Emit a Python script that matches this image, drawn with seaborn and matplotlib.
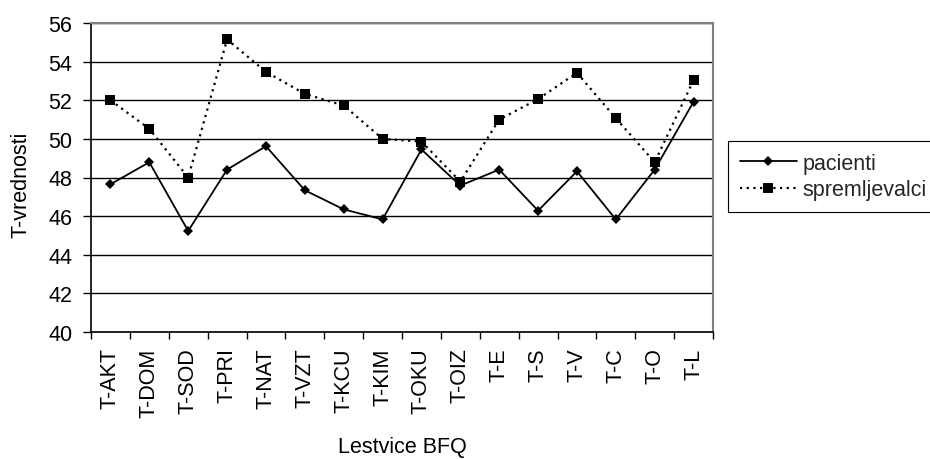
import numpy as np
import pandas as pd
import seaborn as sns
import matplotlib
matplotlib.use("Agg")
import matplotlib.pyplot as plt
from matplotlib.ticker import FixedLocator, NullFormatter
from matplotlib.lines import Line2D

# BFQ scales
scales = ["T-AKT", "T-DOM", "T-SOD", "T-PRI", "T-NAT", "T-VZT", "T-KCU", "T-KIM",
          "T-OKU", "T-OIZ", "T-E", "T-S", "T-V", "T-C", "T-O", "T-L"]

# Mean T-scores per group
pacienti = [47.65, 48.79, 45.23, 48.41, 49.62, 47.34, 46.35, 45.83,
            49.45, 47.58, 48.41, 46.28, 48.32, 45.83, 48.41, 51.92]
spremljevalci = [52.0, 50.52, 48.0, 55.15, 53.47, 52.33, 51.73, 50.0,
                 49.86, 47.79, 51.0, 52.06, 53.42, 51.07, 48.79, 53.04]

groups = ["pacienti", "spremljevalci"]
y_ticks = [40, 42, 44, 46, 48, 50, 52, 54, 56]

df = pd.DataFrame({
    "lestvica": scales * 2,
    "T": pacienti + spremljevalci,
    "skupina": [groups[0]] * len(scales) + [groups[1]] * len(scales),
})

sns.set_theme(style="white")
plt.rcParams["font.family"] = ["Liberation Sans", "DejaVu Sans"]
FS = 15.5

fig = plt.figure(figsize=(9.3, 4.6), dpi=100)
ax = fig.add_axes([91 / 930, 1 - 333 / 460, (713 - 91) / 930, (333 - 24) / 460])

DOT = (1.0, 2.0)
sns.lineplot(
    data=df, x="lestvica", y="T", hue="skupina", style="skupina",
    hue_order=groups, style_order=groups,
    palette={"pacienti": "black", "spremljevalci": "black"},
    markers={"pacienti": "D", "spremljevalci": "s"},
    dashes={"pacienti": "", "spremljevalci": DOT},
    linewidth=1.3, ax=ax, sort=False, legend=False,
)
for line, ms, lw in zip(ax.lines, [5.4, 7.2], [1.3, 1.6]):
    line.set_markersize(ms)
    line.set_markeredgewidth(0)
    line.set_linewidth(lw)

ax.set_xlim(-0.5, len(scales) - 0.5)
ax.set_ylim(40, 56)
ax.set_yticks(y_ticks)
ax.set_yticklabels([str(v) for v in y_ticks])
ax.set_xticks(range(len(scales)))
ax.set_xticklabels(scales, rotation=90)
ax.xaxis.set_minor_locator(FixedLocator(np.arange(-0.5, len(scales), 1.0)))
ax.xaxis.set_minor_formatter(NullFormatter())
ax.tick_params(axis="x", which="major", length=0, pad=11, labelsize=FS, colors="black")
ax.tick_params(axis="x", which="minor", length=5, width=1, color="black", direction="out", bottom=True)
ax.tick_params(axis="y", which="major", length=5.5, width=1, color="black", direction="out",
               left=True, pad=8, labelsize=FS, labelcolor="black")

ax.yaxis.grid(True, color="black", linewidth=1)
ax.xaxis.grid(False)
ax.set_axisbelow(True)

for side in ["left", "bottom"]:
    ax.spines[side].set_color("black")
    ax.spines[side].set_linewidth(1.2)
for side in ["top", "right"]:
    ax.spines[side].set_color("#808080")
    ax.spines[side].set_linewidth(1.5)

ax.set_xlabel("Lestvice BFQ", fontsize=FS, color="black")
ax.set_ylabel("T-vrednosti", fontsize=FS, color="black")
ax.xaxis.set_label_coords(0.5, -0.335)
ax.yaxis.set_label_coords(-0.095, 0.48)

# legend
handles = [
    Line2D([], [], color="black", linewidth=1.3, marker="D", markersize=5, markeredgewidth=0),
    Line2D([], [], color="black", linewidth=1.6, linestyle=(0, DOT),
           marker="s", markersize=6.5, markeredgewidth=0),
]
leg = fig.legend(handles, groups, loc="upper left", bbox_to_anchor=(728 / 930, 1 - 142 / 460),
                 frameon=True, fancybox=False, edgecolor="black", framealpha=1,
                 fontsize=FS, handlelength=2.65, handletextpad=0.25, labelspacing=0.25,
                 borderpad=0.55, borderaxespad=0)
leg.get_frame().set_linewidth(0.8)

fig.savefig("out.png", dpi=100)
